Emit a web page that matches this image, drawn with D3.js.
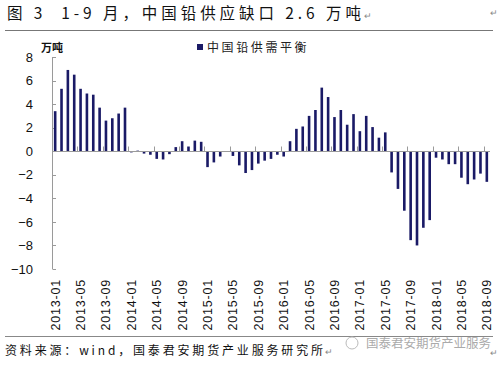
<!DOCTYPE html>
<html><head><meta charset="utf-8">
<script src="https://cdn.jsdelivr.net/npm/d3@7"></script>
<style>
body{margin:0;background:#fff;}
svg{display:block;}
</style></head>
<body>
<svg id="c" width="500" height="366"></svg>
<script>
const titleText = "图 3  1-9 月，中国铅供应缺口 2.6 万吨";
const sourceText = "资料来源：wind，国泰君安期货产业服务研究所";
const watermarkText = "国泰君安期货产业服务";
const unitText = "万吨";
const seriesName = "中国铅供需平衡";
const startYear = 2013, monthCount = 69;
const months = d3.range(monthCount).map(i => {
  const y = startYear + Math.floor(i / 12), m = i % 12 + 1;
  return y + "-" + String(m).padStart(2, "0");
});
const balance = [
  3.4, 5.3, 6.9, 6.5, 5.3, 4.9, 4.8, 3.7, 2.6, 2.8, 3.2, 3.7,
  -0.1, 0.05, -0.2, -0.3, -0.65, -0.7, -0.25, 0.35, 0.85, 0.4, 0.9, 0.8,
  -1.35, -0.95, -0.45, -0.05, -0.4, -1.2, -1.85, -1.6, -1.05, -0.8, -0.65, -0.3,
  -0.45, 0.85, 1.9, 2.1, 3.0, 3.5, 5.4, 4.6, 2.9, 3.5, 2.25, 3.15,
  1.7, 3.0, 2.05, 1.15, 1.6, -1.8, -3.2, -5.05, -7.55, -8.0, -6.5, -5.85,
  -0.55, -0.7, -1.1, -1.1, -2.25, -2.8, -2.4, -1.9, -2.6
];
const yTicks = [8, 6, 4, 2, 0, -2, -4, -6, -8, -10];
const xTickLabels = months.filter((d, i) => i % 4 === 0);

const svg = d3.select("#c");
const cjk = "'Noto Sans CJK SC', sans-serif";
const barColor = "#1a1a66";
const axisColor = "#9a9a9a";

const x = d3.scaleBand().domain(months).range([52, 490]).padding(0);
const y = d3.scaleLinear().domain([-10, 8]).range([269, 57]);

// title
svg.append("text").attr("x", 7).attr("y", 19).attr("font-family", cjk)
  .attr("font-size", 15.5).attr("fill", "#111")
  .attr("style", "white-space:pre").attr("textLength", 354).attr("lengthAdjust", "spacing").text(titleText);
svg.append("text").attr("x", 364).attr("y", 19).attr("font-size", 9).attr("fill", "#888").text("↵");
svg.append("text").attr("x", 490).attr("y", 16).attr("font-size", 9).attr("fill", "#888").text("↵");
svg.append("line").attr("x1", 5).attr("x2", 493).attr("y1", 30.5).attr("y2", 30.5)
  .attr("stroke", "#777").attr("stroke-width", 1);

// unit
svg.append("text").attr("x", 41).attr("y", 52).attr("font-family", cjk)
  .attr("font-size", 11).attr("font-weight", "bold").attr("fill", "#111").text(unitText);

// legend
svg.append("rect").attr("x", 197).attr("y", 44).attr("width", 6).attr("height", 6).attr("fill", barColor);
svg.append("text").attr("x", 207).attr("y", 52).attr("font-family", cjk)
  .attr("font-size", 12).attr("letter-spacing", 2.6).attr("fill", "#222").text(seriesName);

// y axis
const yAxis = d3.axisLeft(y).tickValues(yTicks).tickSize(0).tickPadding(0)
  .tickFormat(d => d < 0 ? "\u2212" + Math.abs(d) : String(d));
const gy = svg.append("g").attr("transform", "translate(52,0)").call(yAxis);
gy.select(".domain").remove();
gy.selectAll("text").attr("x", -19).attr("font-family", "'Liberation Sans', Arial, sans-serif")
  .attr("font-size", 13).attr("fill", "#111");
svg.append("line").attr("x1", 52.5).attr("x2", 52.5).attr("y1", y(8)).attr("y2", y(-10))
  .attr("stroke", axisColor).attr("stroke-width", 1);
svg.selectAll(".ytk").data(yTicks).join("line").attr("class", "ytk")
  .attr("x1", 52.5).attr("x2", 56).attr("y1", d => Math.round(y(d)) + 0.5).attr("y2", d => Math.round(y(d)) + 0.5)
  .attr("stroke", axisColor).attr("stroke-width", 1);

// bars
const bw = 2.6;
svg.append("g").selectAll("rect").data(balance).join("rect")
  .attr("x", (d, i) => x(months[i]) + x.bandwidth() / 2 - bw / 2)
  .attr("width", bw)
  .attr("y", d => y(Math.max(0, d)))
  .attr("height", d => Math.abs(y(d) - y(0)))
  .attr("fill", barColor);

// zero line with category ticks
const y0 = Math.round(y(0)) + 0.5;
svg.append("line").attr("x1", 52).attr("x2", 490).attr("y1", y0).attr("y2", y0)
  .attr("stroke", axisColor).attr("stroke-width", 1);
svg.selectAll(".xtk").data(xTickLabels.slice(1)).join("line").attr("class", "xtk")
  .attr("x1", d => Math.round(x(d)) + 0.5).attr("x2", d => Math.round(x(d)) + 0.5)
  .attr("y1", y0 - 5).attr("y2", y0).attr("stroke", axisColor);

// x labels via axis
const xAxis = d3.axisBottom(x).tickValues(xTickLabels).tickSize(0).tickPadding(0);
const gx = svg.append("g").attr("transform", "translate(0,279)").call(xAxis);
gx.select(".domain").remove();
gx.selectAll("text")
  .attr("font-family", "'Liberation Sans', Arial, sans-serif").attr("font-size", 12.5)
  .attr("fill", "#111").attr("letter-spacing", 0.8)
  .attr("text-anchor", "end").attr("dy", null).attr("y", 0).attr("x", 0)
  .attr("transform", "rotate(-90) translate(0,4.5)");

// bottom rule
svg.append("line").attr("x1", 5).attr("x2", 493).attr("y1", 336.5).attr("y2", 336.5)
  .attr("stroke", "#888").attr("stroke-width", 1);

// source
svg.append("text").attr("x", 5).attr("y", 355).attr("font-family", cjk)
  .attr("font-size", 12).attr("textLength", 318).attr("lengthAdjust", "spacing")
  .attr("fill", "#111").text(sourceText);
svg.append("text").attr("x", 325).attr("y", 355).attr("font-size", 9).attr("fill", "#888").text("↵");
svg.append("text").attr("x", 490).attr("y", 356).attr("font-size", 9).attr("fill", "#888").text("↵");

// watermark
svg.append("circle").attr("cx", 352).attr("cy", 343).attr("r", 6).attr("fill", "none").attr("stroke", "#bbb");
svg.append("text").attr("x", 366).attr("y", 348).attr("font-family", cjk)
  .attr("font-size", 12.5).attr("fill", "#aaa").text(watermarkText);
</script>
</body></html>
